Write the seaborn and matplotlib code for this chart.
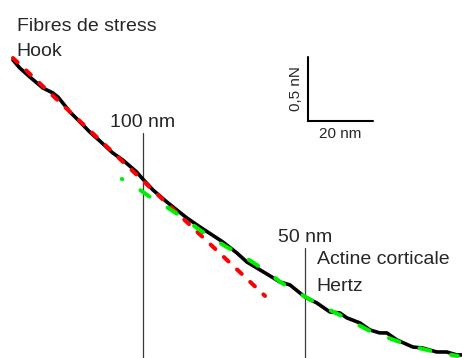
import matplotlib
matplotlib.use("Agg")
import matplotlib.pyplot as plt
import seaborn as sns
import pandas as pd

# Measured force curve: indentation depth (nm) vs force (nN)
depth_nm = [140.1, 138.0, 134.9, 130.9, 127.8, 126.2, 124.7, 122.5, 119.4, 116.4,
            113.3, 109.3, 106.2, 101.9, 100.3, 96.9, 92.6, 89.5, 86.4, 82.4,
            77.2, 75.3, 71.0, 67.9, 64.8, 60.2, 57.7, 54.6, 50.0, 46.3,
            42.3, 39.2, 37.0, 33.0, 29.9, 26.9, 24.7, 21.6, 16.7, 13.6,
            9.3, 6.2, 3.1, 1.2]
force_nN = [2.320, 2.258, 2.188, 2.102, 2.063, 2.031, 1.984, 1.914, 1.836, 1.758,
            1.688, 1.594, 1.539, 1.445, 1.398, 1.305, 1.211, 1.148, 1.086, 1.016,
            0.930, 0.898, 0.813, 0.742, 0.695, 0.625, 0.586, 0.563, 0.469, 0.422,
            0.352, 0.344, 0.305, 0.266, 0.211, 0.188, 0.188, 0.133, 0.078, 0.070,
            0.039, 0.039, 0.016, 0.016]

# Hooke (linear) fit over the deep part of the curve
hook_depth = [140.1, 62.3]
hook_force = [2.336, 0.477]

# Hertz fit over the shallow part of the curve
hertz_depth = [106.5, 100.9, 96.9, 91.7, 88.0, 83.3, 79.3, 74.1, 70.1, 64.8,
               60.8, 57.1, 52.5, 45.4, 39.2, 35.2, 29.9, 25.9, 20.7, 17.6,
               12.3, 8.3, 2.8]
hertz_force = [1.391, 1.305, 1.234, 1.156, 1.094, 1.008, 0.938, 0.859, 0.805, 0.719,
               0.648, 0.578, 0.508, 0.406, 0.328, 0.273, 0.203, 0.164, 0.117, 0.086,
               0.055, 0.031, 0.008]

# Reference depths marked with vertical lines
marker_depths = [100, 50]
marker_tops = [1.75, 0.85]
marker_labels = ["100 nm", "50 nm"]

sns.set_style("white")
plt.rcParams["font.family"] = ["Liberation Sans", "DejaVu Sans"]

fig = plt.figure(figsize=(4.62, 3.58), dpi=100)
ax = fig.add_axes([0, 0, 1, 1])

curve = pd.DataFrame({"depth": depth_nm, "force": force_nN})
hook = pd.DataFrame({"depth": hook_depth, "force": hook_force})
hertz = pd.DataFrame({"depth": hertz_depth, "force": hertz_force})

y_bottom = -0.008
text_color = "#262626"

for d, top, lab in zip(marker_depths, marker_tops, marker_labels):
    ax.plot([d, d], [y_bottom - 0.05, top], color="#3a3a3a", lw=0.9, zorder=1)
    ax.text(d, top + 0.045, lab, ha="center", va="baseline",
            fontsize=14, color=text_color)

sns.lineplot(data=curve, x="depth", y="force", ax=ax, color="black", lw=2.6,
             sort=False, estimator=None, solid_joinstyle="round",
             solid_capstyle="round", zorder=2)
sns.lineplot(data=hook, x="depth", y="force", ax=ax, color="#ff0000", lw=2.9,
             sort=False, estimator=None, linestyle=(0, (1.6, 2.9)),
             dash_capstyle="round", zorder=3)
sns.lineplot(data=hertz, x="depth", y="force", ax=ax, color="#00ee00", lw=2.9,
             sort=False, estimator=None, linestyle=(2.6, (2.75, 5.25)),
             dash_capstyle="round", zorder=4)

# Text annotations for the two fit regimes
ax.text(138.9, 2.547, "Fibres de stress", ha="left", va="baseline",
        fontsize=14, color=text_color)
ax.text(138.9, 2.352, "Hook", ha="left", va="baseline",
        fontsize=14, color=text_color)
ax.text(46.3, 0.725, "Actine corticale", ha="left", va="baseline",
        fontsize=14, color=text_color)
ax.text(46.3, 0.516, "Hertz", ha="left", va="baseline",
        fontsize=14, color=text_color)

# Scale bar: 20 nm horizontally, 0.5 nN vertically
bar_x0, bar_y0 = 49.1, 1.844
ax.plot([bar_x0, bar_x0, bar_x0 - 20], [bar_y0 + 0.5, bar_y0, bar_y0],
        color="black", lw=1.5, solid_joinstyle="miter", zorder=2)
ax.text(bar_x0 - 10, 1.711, "20 nm", ha="center", va="baseline",
        fontsize=11, color=text_color)
ax.text(52.8, bar_y0 + 0.25, "0,5 nN", ha="center", va="center",
        rotation=90, fontsize=11, color=text_color)

ax.set_xlim(144.1, 1.5)
ax.set_ylim(y_bottom, 2.789)
ax.axis("off")

fig.savefig("out.png", dpi=100)
